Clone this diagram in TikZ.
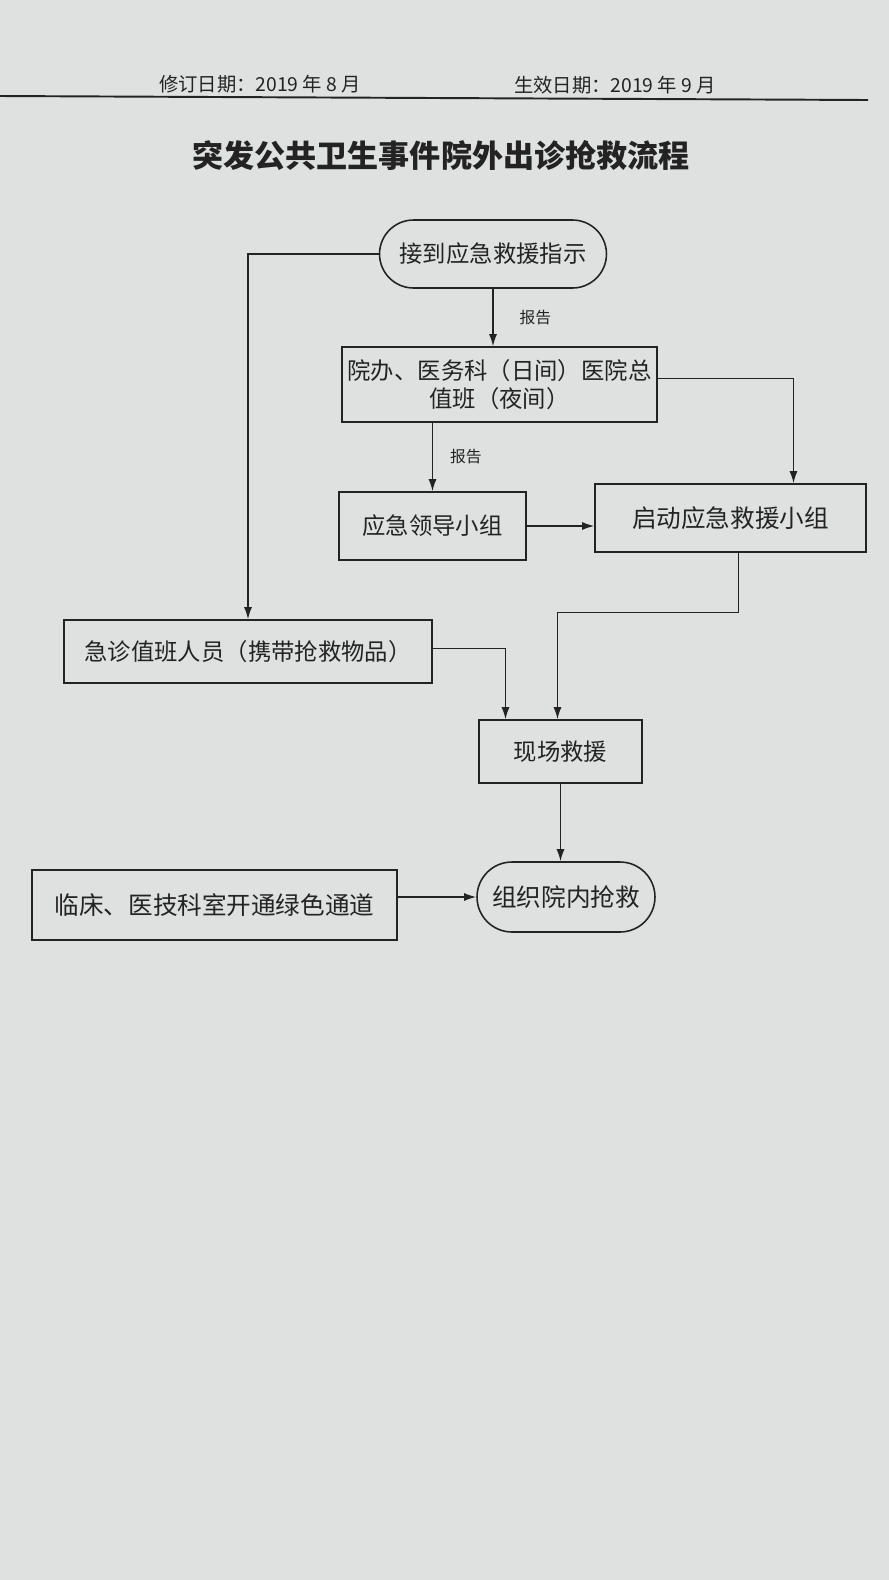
\documentclass[tikz,border=0pt]{standalone}
\usepackage{fontspec}
\setmainfont{Noto Sans CJK SC}
\usetikzlibrary{arrows.meta,shapes.misc}
\definecolor{paper}{RGB}{223,225,225}
\definecolor{ink}{RGB}{35,35,35}

\begin{document}
\begin{tikzpicture}[x=0.02cm,y=-0.02cm,
	box/.style={shape=rectangle,draw=ink,line width=0.9pt,text=ink,inner sep=0pt,font=\fontsize{13.3}{15.8}\selectfont,align=center},
	term/.style={box,shape=rounded rectangle},
	big/.style={font=\fontsize{14}{16}\selectfont},
	lbl/.style={anchor=west,text=ink,font=\fontsize{9}{10}\selectfont},
	link/.style={draw=ink,line width=0.8pt,-{Latex[length=2.4mm,width=1.6mm]}}]
			\useasboundingbox (0,0) rectangle (889,1580);
			\fill[paper] (0,0) rectangle (889,1580);

			% header and title
			\node[text=ink,font=\fontsize{11}{12}\selectfont] (revised) at (260,84) {修订日期：2019 年 8 月};
			\node[text=ink,font=\fontsize{11}{12}\selectfont] (valid) at (615,85) {生效日期：2019 年 9 月};
			\draw[ink,line width=1.1pt] (0,96) -- (868,100);
			\node[text=ink,font=\fontsize{17.7}{20}\selectfont\bfseries] (title) at (441,156) {突发公共卫生事件院外出诊抢救流程};

			% flow
			\node[term,minimum width=4.54cm,minimum height=1.36cm] (recv) at (493,254) {接到应急救援指示};
			\node[box,minimum width=6.3cm,minimum height=1.5cm] (office) at (499.5,384.5) {院办、医务科（日间）医院总\\值班（夜间）};
			\node[box,minimum width=3.74cm,minimum height=1.36cm] (leader) at (432.5,526) {应急领导小组};
			\node[box,big,minimum width=5.42cm,minimum height=1.36cm] (team) at (730.5,518) {启动应急救援小组};
			\node[box,minimum width=7.36cm,minimum height=1.26cm] (staff) at (248,651.5) {急诊值班人员（携带抢救物品）};
			\node[box,minimum width=3.26cm,minimum height=1.26cm] (scene) at (560.5,751.5) {现场救援};
			\node[term,big,minimum width=3.56cm,minimum height=1.4cm] (rescue) at (566,897) {组织院内抢救};
			\node[box,big,minimum width=7.3cm,minimum height=1.4cm] (green) at (214.5,905) {临床、医技科室开通绿色通道};

			\draw[link] (recv.south) -- node[lbl,xshift=0.4cm] {报告} (recv.south |- office.north);
			\draw[link] (office.south -| leader.north) -- node[lbl,xshift=0.22cm] {报告} (leader.north);
			\draw[link] (leader.east) -- (leader.east -| team.west);
			\draw[link] ([yshift=0.12cm]office.east) -| ([xshift=1.26cm]team.north);
			\draw[link] (recv.west) -| (staff.north);
			\draw[link] ([yshift=0.06cm]staff.east) -| ([xshift=-1.1cm]scene.north);
			\draw[link] ([xshift=0.16cm]team.south) -- ++(0,60) -| ([xshift=-0.06cm]scene.north);
			\draw[link] (scene.south) -- (scene.south |- rescue.north);
			\draw[link] (rescue.west -| green.east) -- (rescue.west);

		\end{tikzpicture}
\end{document}
